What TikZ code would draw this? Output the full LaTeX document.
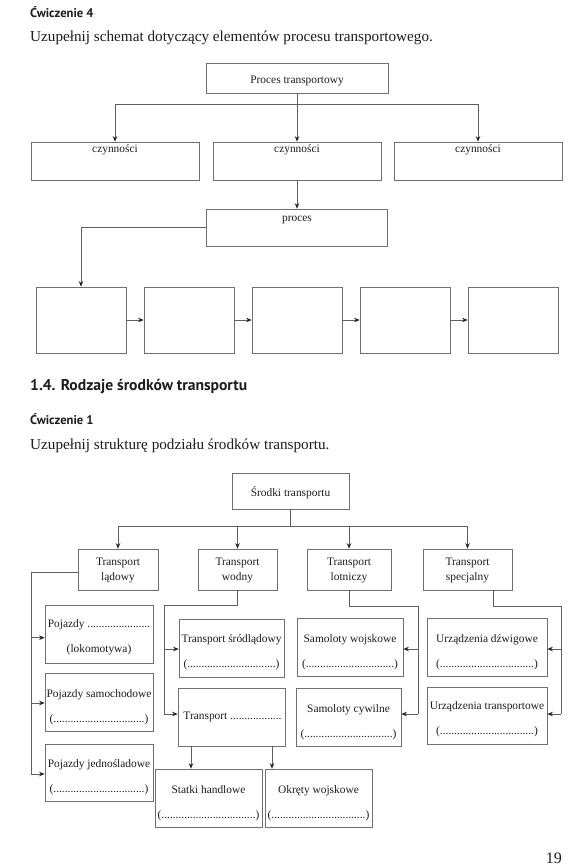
\documentclass[tikz,border=0pt]{standalone}
\usepackage{fontspec}
\setmainfont{Liberation Serif}
\newfontfamily\headfont{PT Sans}
\usetikzlibrary{arrows.meta}
\definecolor{boxgray}{RGB}{112,112,112}
\definecolor{linegray}{RGB}{95,95,95}
\definecolor{tipcol}{RGB}{35,35,35}
\definecolor{textcol}{RGB}{30,28,28}
\begin{document}
\begin{tikzpicture}[x=1pt,y=-1pt,
  box/.style={draw=boxgray, line width=0.75pt, rectangle, inner sep=0pt},
  conn/.style={draw=linegray, line width=0.75pt},
  arr/.style={conn, -{Stealth[length=5.5pt,width=4.5pt,color=tipcol]}},
  txt/.style={font=\fontsize{11.4}{13.7}\selectfont, inner sep=0pt, text=textcol},
  txtb/.style={txt, anchor=base},
  txtt/.style={txt, align=center, font=\fontsize{11.4}{14.7}\selectfont},
  txtw/.style={txt, align=center, font=\fontsize{11.4}{25}\selectfont},
  head/.style={font=\headfont\bfseries\fontsize{12.6}{15}\selectfont, inner sep=0pt, text=textcol, anchor=base west},
  sect/.style={font=\headfont\bfseries\fontsize{15.6}{18}\selectfont, inner sep=0pt, text=textcol, anchor=base west},
  instr/.style={font=\fontsize{15.2}{18}\selectfont, inner sep=0pt, text=textcol, anchor=base west}
]
\useasboundingbox (0,0) rectangle (577,868);
\fill[white] (0,0) rectangle (577,868);

% ---------- headings ----------
\node[head] (h1) at (30,17.7) {Ćwiczenie 4};
\node[instr] (i1) at (30,41.5) {Uzupełnij schemat dotyczący elementów procesu transportowego.};
\node[sect] (h2) at (30,390.7) {1.4. Rodzaje środków transportu};
\node[head] (h3) at (30,424) {Ćwiczenie 1};
\node[instr] (i2) at (30,449) {Uzupełnij strukturę podziału środków transportu.};
\node[font=\fontsize{16}{18}\selectfont, inner sep=0pt, text=textcol, anchor=base east] (pg) at (562,863) {19};

% ---------- diagram 1 ----------
\node[box, minimum width=182pt, minimum height=30pt] (pt) at (297,78) {};
\node[txtb] (ptt) at (297,83) {Proces transportowy};

\node[box, minimum width=168pt, minimum height=38pt] (c1) at (115,161) {};
\node[box, minimum width=168pt, minimum height=38pt] (c2) at (297,161) {};
\node[box, minimum width=168pt, minimum height=38pt] (c3) at (478,161) {};
\node[txtb] (c1t) at ([yshift=-11pt]c1.north) {czynności};
\node[txtb] (c2t) at ([yshift=-11pt]c2.north) {czynności};
\node[txtb] (c3t) at ([yshift=-11pt]c3.north) {czynności};

\node[box, minimum width=181pt, minimum height=37pt] (proc) at (297,227.5) {};
\node[txtb] (proct) at ([yshift=-13pt]proc.north) {proces};

\foreach \i/\x in {1/81,2/189,3/297,4/405,5/513}{
  \node[box, minimum width=90pt, minimum height=66pt] (s\i) at (\x,320) {};
}

\coordinate (bus1) at (297,104);
\draw[conn] (pt.south) -- (bus1);
\draw[conn] (c1.north |- bus1) -- (c3.north |- bus1);
\draw[arr] (c1.north |- bus1) -- (c1.north);
\draw[arr] (c2.north |- bus1) -- (c2.north);
\draw[arr] (c3.north |- bus1) -- (c3.north);
\draw[arr] (c2.south) -- (proc.north);
\draw[arr] (proc.west) -| (s1.north);
\draw[arr] (s1.east) -- (s2.west);
\draw[arr] (s2.east) -- (s3.west);
\draw[arr] (s3.east) -- (s4.west);
\draw[arr] (s4.east) -- (s5.west);

% ---------- diagram 2 ----------
\node[box, minimum width=117pt, minimum height=36pt] (sr) at (290.5,491) {};
\node[txtb] (srt) at (290.5,496) {Środki transportu};

\node[box, minimum width=80pt, minimum height=41pt] (tl) at (118,569.5) {};
\node[box, minimum width=79pt, minimum height=41pt] (tw) at (237.5,569.5) {};
\node[box, minimum width=84pt, minimum height=41pt] (tlo) at (349,569.5) {};
\node[box, minimum width=89pt, minimum height=41pt] (ts) at (467.5,569.5) {};
\node[txtt] (tlt) at (118,570.7) {Transport\\lądowy};
\node[txtt] (twt) at (237.5,570.7) {Transport\\wodny};
\node[txtt] (tlot) at (349,570.7) {Transport\\lotniczy};
\node[txtt] (tst) at (467.5,570.7) {Transport\\specjalny};

\coordinate (bus2) at (290.5,526);
\draw[conn] (sr.south) -- (bus2);
\draw[conn] (tl.north |- bus2) -- (ts.north |- bus2);
\draw[arr] (tl.north |- bus2) -- (tl.north);
\draw[arr] (tw.north |- bus2) -- (tw.north);
\draw[arr] (tlo.north |- bus2) -- (tlo.north);
\draw[arr] (ts.north |- bus2) -- (ts.north);

% land
\node[box, minimum width=108pt, minimum height=58pt] (p1) at (99,634) {};
\node[box, minimum width=108pt, minimum height=58pt] (p2) at (99,702) {};
\node[box, minimum width=108pt, minimum height=57pt] (p3) at (99,772.5) {};
\node[txtw] (p1t) at (99,637.6) {Pojazdy ......................\\(lokomotywa)};
\node[txtw] (p2t) at (99,707) {Pojazdy samochodowe\\(................................)};
\node[txtw] (p3t) at (99,777.6) {Pojazdy jednośladowe\\(................................)};
\coordinate (lt) at (31,572);
\draw[conn] ([yshift=-2.5pt]tl.west) -- (lt) -- ([yshift=-1.5pt]p3.west -| lt);
\draw[arr] ([yshift=-3.7pt]p1.west -| lt) -- ([yshift=-3.7pt]p1.west);
\draw[arr] ([yshift=-1pt]p2.west -| lt) -- ([yshift=-1pt]p2.west);
\draw[arr] ([yshift=-1.5pt]p3.west -| lt) -- ([yshift=-1.5pt]p3.west);

% water
\node[box, minimum width=105pt, minimum height=58pt] (tsr) at (231.5,648) {};
\node[box, minimum width=107pt, minimum height=58pt] (ttr) at (231.5,717) {};
\node[txtw] (tsrt) at (231.5,652.2) {Transport śródlądowy\\(...............................)};
\node[txtb] (ttrt) at (232.5,719) {Transport ..................};
\node[box, minimum width=107pt, minimum height=58pt] (sh) at (208.5,798) {};
\node[box, minimum width=107pt, minimum height=58pt] (ow) at (318.5,798) {};
\node[txtw] (sht) at (208.5,802.9) {Statki handlowe\\(.................................)};
\node[txtw] (owt) at (318.5,802.9) {Okręty wojskowe\\(.................................)};
\coordinate (wt) at (164,605);
\draw[conn] (tw.south) -- (tw.south |- wt) -- (wt) -- ([yshift=3pt]ttr.west -| wt);
\draw[arr] ([yshift=-1pt]tsr.west -| wt) -- ([yshift=-1pt]tsr.west);
\draw[arr] ([yshift=3pt]ttr.west -| wt) -- ([yshift=3pt]ttr.west);
\draw[arr] ([xshift=-40.5pt]ttr.south) -- ([xshift=-40.5pt]ttr.south |- sh.north);
\draw[arr] ([xshift=40.5pt]ttr.south) -- ([xshift=40.5pt]ttr.south |- ow.north);

% air
\node[box, minimum width=106pt, minimum height=58pt] (sw) at (350,647) {};
\node[box, minimum width=105pt, minimum height=58pt] (sc) at (348.5,717) {};
\node[txtw] (swt) at (350,651.9) {Samoloty wojskowe\\(...............................)};
\node[txtw] (sct) at (348.5,722.4) {Samoloty cywilne\\(...............................)};
\coordinate (at) at (418,606);
\draw[conn] (tlo.south) -- (tlo.south |- at) -- (at) -- ([yshift=3pt]sc.east -| at);
\draw[arr] ([yshift=-2pt]sw.east -| at) -- ([yshift=-2pt]sw.east);
\draw[arr] ([yshift=3pt]sc.east -| at) -- ([yshift=3pt]sc.east);

% special
\node[box, minimum width=120pt, minimum height=58pt] (ud) at (487,647) {};
\node[box, minimum width=120pt, minimum height=57pt] (ut) at (487,715.5) {};
\node[txtw] (udt) at (487,651.9) {Urządzenia dźwigowe\\(.................................)};
\node[txtw] (utt) at (487,718.9) {Urządzenia transportowe\\(.................................)};
\coordinate (st) at (561,606);
\draw[conn] ([xshift=25.5pt]ts.south) -- ([xshift=25.5pt]ts.south |- st) -- (st) -- ([yshift=1.5pt]ut.east -| st);
\draw[arr] ([yshift=-2pt]ud.east -| st) -- ([yshift=-2pt]ud.east);
\draw[arr] ([yshift=1.5pt]ut.east -| st) -- ([yshift=1.5pt]ut.east);
\end{tikzpicture}
\end{document}
